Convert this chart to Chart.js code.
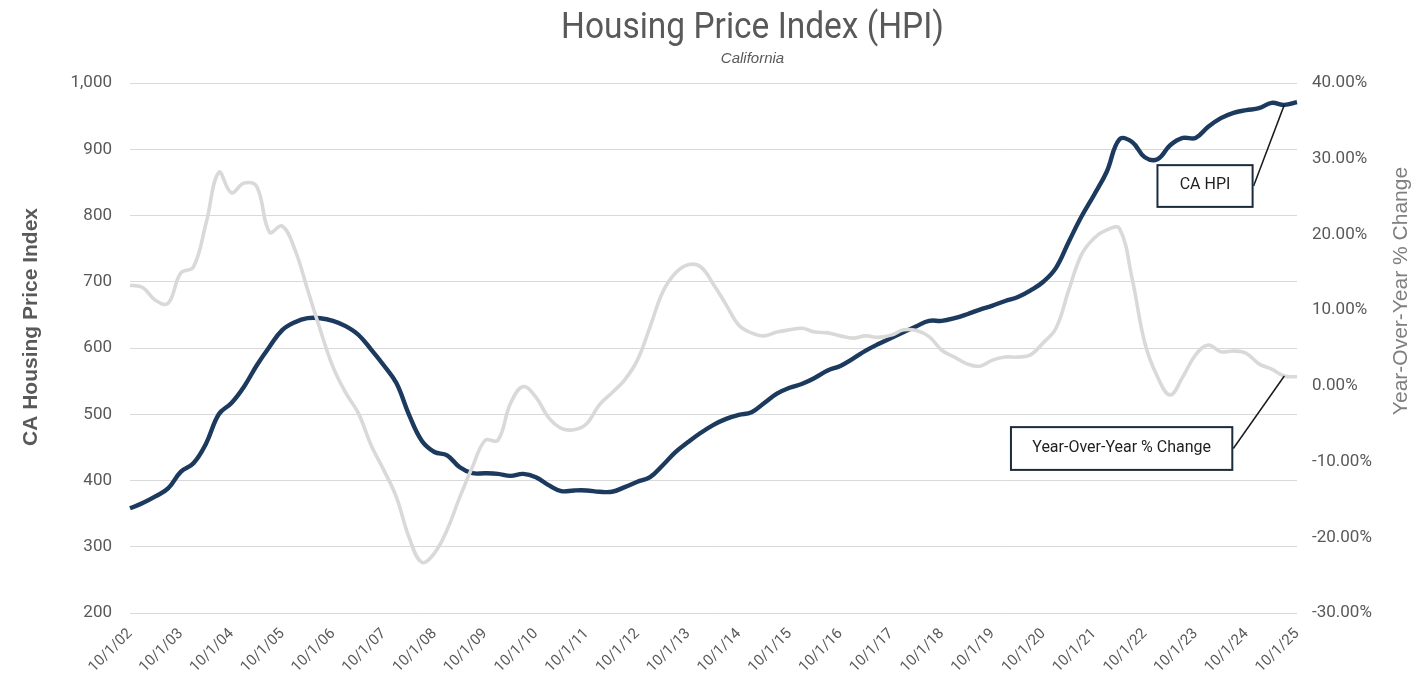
<!DOCTYPE html>
<html><head><meta charset="utf-8">
<script src="https://cdn.jsdelivr.net/npm/chart.js@4"></script>
<style>html,body{margin:0;padding:0;background:#fff}#wrap{width:1428px;height:694px}</style>
</head><body><div id="wrap"><canvas id="c" width="1428" height="694"></canvas></div>
<script>
// Quarterly dates 10/1/02 .. 10/1/25
const quarterMonths = [10, 1, 4, 7];
const dateLabels = [];
for (let i = 0; i < 93; i++) {
  const m = quarterMonths[i % 4];
  const yr = 2002 + Math.floor((i + 3) / 4);
  dateLabels.push(m + '/1/' + String(yr % 100).padStart(2, '0'));
}

const hpiValues = [
  358,366,376,388,413,426,456,500,517,542,
  574,602,627,639,645,645,641,633,620,598,
  574,547,499,460,443,438,420,411,411,410,
  407,410,405,393,384,385,385,383,383,390,
  398,405,423,443,458,472,484,493,499,503,
  517,531,540,546,555,566,573,584,596,606,
  615,624,633,641,641,645,651,658,664,671,
  677,687,700,721,760,798,831,866,915,911,
  888,885,906,917,917,934,947,955,959,962,
  970,967,971
];

const yoyValues = [
  13.3,13.0,11.3,10.9,14.9,15.7,21.5,28.2,25.5,26.8,
  26.3,20.3,21.1,18.0,12.7,7.4,2.5,-0.9,-3.6,-7.8,
  -11.1,-14.7,-20.0,-23.3,-22.1,-19.0,-14.7,-10.7,-7.2,-7.2,
  -2.3,-0.1,-1.5,-4.2,-5.6,-5.8,-5.0,-2.5,-0.9,0.8,
  3.4,7.8,12.4,14.9,16.0,15.7,13.4,10.7,8.0,7.0,
  6.6,7.1,7.4,7.6,7.1,7.0,6.6,6.3,6.6,6.4,
  6.7,7.4,7.3,6.5,4.7,3.8,2.9,2.6,3.4,3.8,
  3.8,4.1,5.7,7.6,12.6,17.3,19.5,20.6,20.8,14.2,
  5.7,1.2,-1.2,1.2,4.1,5.4,4.5,4.6,4.3,2.9,
  2.2,1.3,1.2
];

const hpiTicks = { min: 200, max: 1000, step: 100 };
const yoyTicks = { min: -30, max: 40, step: 10 };

const titleText = 'Housing Price Index (HPI)';
const subtitleText = 'California';
const leftAxisTitle = 'CA Housing Price Index';
const rightAxisTitle = 'Year-Over-Year % Change';

// callout boxes placed in data units
const callouts = [
  { text: 'CA HPI', axis: 'y', x0: 81.0, x1: 88.5, v0: 876, v1: 813, target: 91, series: hpiValues, font: '16px Roboto' },
  { text: 'Year-Over-Year % Change', axis: 'y1', x0: 69.45, x1: 86.9, v0: -5.45, v1: -11.1, target: 91, series: yoyValues, font: '16px Roboto' }
];

const grey = '#595959';

const decorPlugin = {
  id: 'decor',
  afterDatasetsDraw(chart) {
    const ctx = chart.ctx;
    const xs = chart.scales.x;
    callouts.forEach(c => {
      const ys = chart.scales[c.axis];
      const l = xs.getPixelForValue(c.x0), r = xs.getPixelForValue(c.x1);
      const t = ys.getPixelForValue(c.v0), b = ys.getPixelForValue(c.v1);
      const mid = (t + b) / 2;
      ctx.save();
      ctx.strokeStyle = '#1a1a1a';
      ctx.lineWidth = 1.5;
      ctx.beginPath();
      ctx.moveTo(r + 1, mid);
      ctx.lineTo(xs.getPixelForValue(c.target), ys.getPixelForValue(c.series[c.target]));
      ctx.stroke();
      ctx.fillStyle = '#fff';
      ctx.fillRect(l, t, r - l, b - t);
      ctx.strokeStyle = '#1C2B3A';
      ctx.lineWidth = 2;
      ctx.strokeRect(l, t, r - l, b - t);
      ctx.fillStyle = '#1f1f1f';
      ctx.font = c.font;
      ctx.textAlign = 'center';
      ctx.textBaseline = 'middle';
      ctx.fillText(c.text, (l + r) / 2, mid - 1);
      ctx.restore();
    });
  },
  afterDraw(chart) {
    const ctx = chart.ctx;
    const ca = chart.chartArea;
    const cx = (ca.left + ca.right) / 2 + 39;
    ctx.save();
    ctx.fillStyle = grey;
    ctx.textAlign = 'center';
    ctx.textBaseline = 'alphabetic';
    ctx.save();
    ctx.translate(cx, 38);
    ctx.scale(0.93, 1);
    ctx.font = '36px Roboto';
    ctx.fillText(titleText, 0, 0);
    ctx.restore();
    ctx.font = 'italic 15px "Liberation Sans", Arial, sans-serif';
    ctx.fillText(subtitleText, cx, 63);
    ctx.restore();

    ctx.save();
    ctx.translate(31, 327);
    ctx.rotate(-Math.PI / 2);
    ctx.fillStyle = grey;
    ctx.font = 'bold 21px "Liberation Sans", Arial, sans-serif';
    ctx.textAlign = 'center';
    ctx.textBaseline = 'middle';
    ctx.fillText(leftAxisTitle, 0, 0);
    ctx.restore();

    ctx.save();
    ctx.translate(1401, 291);
    ctx.rotate(-Math.PI / 2);
    ctx.fillStyle = '#7F7F7F';
    ctx.font = '21px "Liberation Sans", Arial, sans-serif';
    ctx.textAlign = 'center';
    ctx.textBaseline = 'middle';
    ctx.fillText(rightAxisTitle, 0, 0);
    ctx.restore();
  }
};

new Chart(document.getElementById('c'), {
  type: 'line',
  data: {
    labels: dateLabels,
    datasets: [
      { label: 'CA HPI', data: hpiValues, yAxisID: 'y', borderColor: '#1B3A5E', borderWidth: 4.4, pointRadius: 0, tension: 0.4, order: 1, fill: false },
      { label: 'Year-Over-Year % Change', data: yoyValues, yAxisID: 'y1', borderColor: '#D9D9D9', borderWidth: 3.6, pointRadius: 0, tension: 0.4, order: 0, fill: false }
    ]
  },
  options: {
    responsive: false,
    animation: false,
    devicePixelRatio: 1,
    layout: { padding: { top: 83, left: 0, right: 0, bottom: 0 } },
    plugins: { legend: { display: false }, tooltip: { enabled: false }, title: { display: false } },
    scales: {
      x: {
        offset: false,
        grid: { display: false },
        border: { display: false },
        ticks: {
          autoSkip: false, maxRotation: 45, minRotation: 45, padding: 4,
          color: grey, font: { family: 'Roboto', size: 15 },
          callback: (v, i) => dateLabels[i].startsWith('10/1/') ? dateLabels[i] : ''
        },
        afterFit: s => { s.height = 81; }
      },
      y: {
        position: 'left',
        min: hpiTicks.min, max: hpiTicks.max,
        grid: { color: '#D9D9D9', lineWidth: 1, drawTicks: false },
        border: { display: false },
        ticks: {
          stepSize: hpiTicks.step, padding: 18, color: grey,
          font: { family: 'Roboto', size: 17 },
          callback: v => v.toLocaleString('en-US')
        },
        afterFit: s => { s.width = 130; }
      },
      y1: {
        position: 'right',
        min: yoyTicks.min, max: yoyTicks.max,
        grid: { display: false, drawTicks: false },
        border: { display: false },
        ticks: {
          stepSize: yoyTicks.step, padding: 15, color: grey,
          font: { family: 'Roboto', size: 17 },
          callback: v => v.toFixed(2) + '%'
        },
        afterFit: s => { s.width = 131; }
      }
    }
  },
  plugins: [decorPlugin]
});
</script>
</body></html>
